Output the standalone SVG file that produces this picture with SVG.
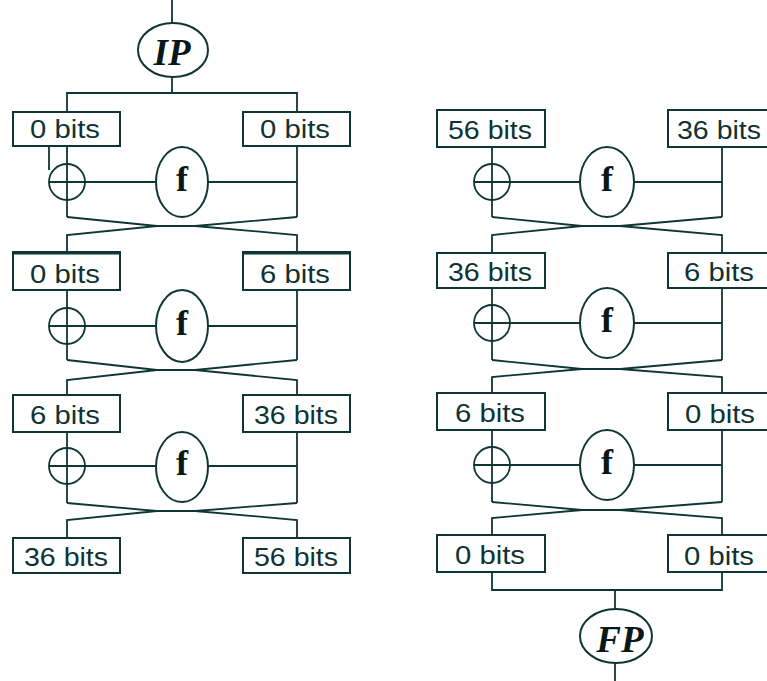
<svg xmlns="http://www.w3.org/2000/svg" width="767" height="681" viewBox="0 0 767 681">
  <style>
    .ln { fill: none; stroke: #0f3535; stroke-width: 1.8; stroke-linejoin: miter; }
    .box { fill: #ffffff; stroke: #0f3535; stroke-width: 2; }
    .bits { font-family: "Liberation Sans", Arial, sans-serif; font-size: 25px; fill: #0f3333; text-anchor: middle; }
    .fn { fill: #ffffff; stroke: #0f3535; stroke-width: 2; }
    .ftxt { font-family: "Liberation Serif", "Times New Roman", serif; font-weight: bold; font-size: 36px; fill: #081818; text-anchor: middle; }
    .perm { font-family: "Liberation Serif", "Times New Roman", serif; font-weight: bold; font-style: italic; font-size: 37px; fill: #081818; text-anchor: middle; }
    .xor { fill: #ffffff; stroke: #0f3535; stroke-width: 1.8; }
  </style>
  <rect width="767" height="681" fill="#ffffff"/>

  <!-- connectors -->
  <g id="connectors" class="ln">
    <!-- left column: input through IP and split -->
    <line x1="172" y1="0" x2="172" y2="23"/>
    <line x1="172" y1="77" x2="172" y2="93"/>
    <polyline points="67,112 67,93 297,93 297,112"/>

    <!-- left round 1 -->
    <line x1="49" y1="146" x2="49" y2="170"/>
    <line x1="67" y1="146" x2="67" y2="217"/>
    <line x1="297" y1="146" x2="297" y2="217"/>
    <line x1="85" y1="182" x2="156" y2="182"/>
    <line x1="208" y1="182" x2="297" y2="182"/>
    <polyline points="67,217 157,226 195,226 297,235 297,252"/>
    <polyline points="297,217 195,226 157,226 67,235 67,252"/>

    <!-- left round 2 -->
    <line x1="67" y1="290" x2="67" y2="360"/>
    <line x1="297" y1="290" x2="297" y2="360"/>
    <line x1="85" y1="326" x2="156" y2="326"/>
    <line x1="208" y1="326" x2="297" y2="326"/>
    <polyline points="67,360 157,370 195,370 297,380 297,395"/>
    <polyline points="297,360 195,370 157,370 67,380 67,395"/>

    <!-- left round 3 -->
    <line x1="67" y1="432" x2="67" y2="503"/>
    <line x1="297" y1="432" x2="297" y2="503"/>
    <line x1="85" y1="466" x2="156" y2="466"/>
    <line x1="209" y1="466" x2="297" y2="466"/>
    <polyline points="67,503 157,511 195,511 297,520 297,538"/>
    <polyline points="297,503 195,511 157,511 67,520 67,538"/>

    <!-- right round 1 -->
    <line x1="492" y1="147" x2="492" y2="217"/>
    <line x1="722" y1="147" x2="722" y2="217"/>
    <line x1="510" y1="182" x2="580" y2="182"/>
    <line x1="634" y1="182" x2="722" y2="182"/>
    <polyline points="492,217 582,226 620,226 722,235 722,253"/>
    <polyline points="722,217 620,226 582,226 492,235 492,253"/>

    <!-- right round 2 -->
    <line x1="492" y1="288" x2="492" y2="360"/>
    <line x1="722" y1="288" x2="722" y2="360"/>
    <line x1="510" y1="323" x2="580" y2="323"/>
    <line x1="634" y1="323" x2="722" y2="323"/>
    <polyline points="492,360 582,369 620,369 722,377 722,393"/>
    <polyline points="722,360 620,369 582,369 492,377 492,393"/>

    <!-- right round 3 -->
    <line x1="492" y1="430" x2="492" y2="502"/>
    <line x1="722" y1="430" x2="722" y2="502"/>
    <line x1="510" y1="465" x2="580" y2="465"/>
    <line x1="634" y1="465" x2="722" y2="465"/>
    <polyline points="492,502 582,510 620,510 722,518 722,535"/>
    <polyline points="722,502 620,510 582,510 492,518 492,535"/>

    <!-- right column: join and FP output -->
    <polyline points="492,572 492,590 722,590 722,572"/>
    <line x1="615" y1="590" x2="615" y2="610"/>
    <line x1="615" y1="663" x2="615" y2="681"/>
  </g>

  <!-- permutations -->
  <g id="ip">
    <ellipse class="fn" cx="173" cy="50" rx="35" ry="27"/>
    <text class="perm" x="172" y="65">IP</text>
  </g>
  <g id="fp">
    <ellipse class="fn" cx="616" cy="636" rx="36" ry="27"/>
    <text class="perm" x="620" y="652">FP</text>
  </g>

  <!-- left column halves -->
  <g id="l1-left"><rect class="box" x="13" y="112" width="107" height="34"/><text class="bits" x="65" y="138" textLength="70" lengthAdjust="spacingAndGlyphs">0 bits</text></g>
  <g id="l1-right"><rect class="box" x="243" y="112" width="107" height="34"/><text class="bits" x="295" y="138" textLength="70" lengthAdjust="spacingAndGlyphs">0 bits</text></g>
  <g id="l2-left"><rect class="box" x="13" y="252" width="107" height="38"/><line x1="13" y1="253" x2="120" y2="253" stroke="#0f3535" stroke-width="3"/><text class="bits" x="65" y="283" textLength="70" lengthAdjust="spacingAndGlyphs">0 bits</text></g>
  <g id="l2-right"><rect class="box" x="243" y="252" width="107" height="38"/><line x1="243" y1="253" x2="350" y2="253" stroke="#0f3535" stroke-width="3"/><text class="bits" x="295" y="283" textLength="70" lengthAdjust="spacingAndGlyphs">6 bits</text></g>
  <g id="l3-left"><rect class="box" x="13" y="395" width="107" height="37"/><text class="bits" x="65" y="424" textLength="70" lengthAdjust="spacingAndGlyphs">6 bits</text></g>
  <g id="l3-right"><rect class="box" x="243" y="395" width="107" height="37"/><text class="bits" x="296" y="424" textLength="84" lengthAdjust="spacingAndGlyphs">36 bits</text></g>
  <g id="l4-left"><rect class="box" x="13" y="538" width="107" height="35"/><text class="bits" x="66" y="566" textLength="84" lengthAdjust="spacingAndGlyphs">36 bits</text></g>
  <g id="l4-right"><rect class="box" x="243" y="538" width="107" height="35"/><text class="bits" x="296" y="566" textLength="84" lengthAdjust="spacingAndGlyphs">56 bits</text></g>

  <!-- right column halves -->
  <g id="r1-left"><rect class="box" x="437" y="110" width="108" height="37"/><text class="bits" x="490" y="139" textLength="84" lengthAdjust="spacingAndGlyphs">56 bits</text></g>
  <g id="r1-right"><rect class="box" x="668" y="110" width="108" height="37"/><text class="bits" x="719" y="139" textLength="84" lengthAdjust="spacingAndGlyphs">36 bits</text></g>
  <g id="r2-left"><rect class="box" x="437" y="253" width="108" height="35"/><text class="bits" x="490" y="281" textLength="84" lengthAdjust="spacingAndGlyphs">36 bits</text></g>
  <g id="r2-right"><rect class="box" x="668" y="253" width="108" height="35"/><text class="bits" x="719" y="281" textLength="70" lengthAdjust="spacingAndGlyphs">6 bits</text></g>
  <g id="r3-left"><rect class="box" x="437" y="393" width="108" height="37"/><text class="bits" x="490" y="422" textLength="70" lengthAdjust="spacingAndGlyphs">6 bits</text></g>
  <g id="r3-right"><rect class="box" x="668" y="393" width="108" height="37"/><text class="bits" x="720" y="423" textLength="70" lengthAdjust="spacingAndGlyphs">0 bits</text></g>
  <g id="r4-left"><rect class="box" x="437" y="535" width="108" height="37"/><text class="bits" x="490" y="564" textLength="70" lengthAdjust="spacingAndGlyphs">0 bits</text></g>
  <g id="r4-right"><rect class="box" x="668" y="535" width="108" height="37"/><text class="bits" x="719" y="565" textLength="70" lengthAdjust="spacingAndGlyphs">0 bits</text></g>

  <!-- round functions -->
  <g id="f-l1"><ellipse class="fn" cx="182" cy="182" rx="26" ry="35"/><text class="ftxt" x="182" y="191">f</text></g>
  <g id="f-l2"><ellipse class="fn" cx="182" cy="326" rx="26" ry="36"/><text class="ftxt" x="182" y="335">f</text></g>
  <g id="f-l3"><ellipse class="fn" cx="182" cy="467" rx="26" ry="35"/><text class="ftxt" x="182" y="475">f</text></g>
  <g id="f-r1"><ellipse class="fn" cx="607" cy="182" rx="27" ry="35"/><text class="ftxt" x="607" y="191">f</text></g>
  <g id="f-r2"><ellipse class="fn" cx="607" cy="323" rx="27" ry="35"/><text class="ftxt" x="607" y="332">f</text></g>
  <g id="f-r3"><ellipse class="fn" cx="607" cy="465" rx="27" ry="35"/><text class="ftxt" x="607" y="474">f</text></g>

  <!-- xor junctions -->
  <g id="x-l1"><circle class="xor" cx="67" cy="182" r="18"/><path class="ln" d="M49,182 H85 M67,164 V200"/></g>
  <g id="x-l2"><circle class="xor" cx="67" cy="326" r="18"/><path class="ln" d="M49,326 H85 M67,308 V344"/></g>
  <g id="x-l3"><circle class="xor" cx="67" cy="466" r="18"/><path class="ln" d="M49,466 H85 M67,448 V484"/></g>
  <g id="x-r1"><circle class="xor" cx="492" cy="182" r="18"/><path class="ln" d="M474,182 H510 M492,164 V200"/></g>
  <g id="x-r2"><circle class="xor" cx="492" cy="323" r="18"/><path class="ln" d="M474,323 H510 M492,305 V341"/></g>
  <g id="x-r3"><circle class="xor" cx="492" cy="465" r="18"/><path class="ln" d="M474,465 H510 M492,447 V483"/></g>
</svg>
